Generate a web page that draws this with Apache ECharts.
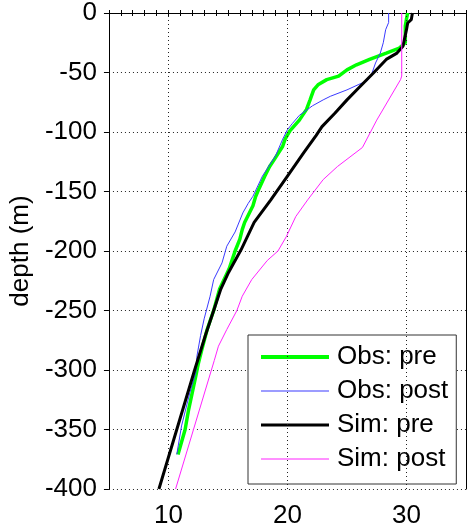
<!DOCTYPE html>
<html><head><meta charset="utf-8">
<script src="https://cdn.jsdelivr.net/npm/echarts@6/dist/echarts.min.js"></script>
<style>html,body{margin:0;padding:0;background:#fff}#c{width:469px;height:532px}</style>
</head><body><div id="c"></div>
<script>
// ---- data (temperature on x, depth on y) ----
const seriesNames = ['Obs: pre', 'Obs: post', 'Sim: pre', 'Sim: post'];
const xGridValues = [10, 20, 30];
const yTickValues = [0, -50, -100, -150, -200, -250, -300, -350, -400];

const obsPreTemp  = [30.1, 30.0, 29.9, 29.9, 29.4, 28.3, 26.9, 25.8, 25.0, 24.3, 23.3, 22.6, 22.2, 21.9, 21.6, 21.0, 20.2, 19.8, 19.6, 18.9, 18.5, 18.1, 17.5, 17.3, 17.1, 16.4, 16.2, 16.0, 15.6, 15.1, 14.3, 13.8, 13.25, 12.8, 12.5, 12.3, 11.7, 11.4, 10.8];
const obsPreDepth = [0, -5, -11, -25, -29.5, -33.7, -39, -43.5, -47.8, -53, -56, -60, -64.6, -73, -81, -90, -99, -106, -112, -123, -129, -137, -150, -155, -162, -176, -182, -190, -200, -215, -232, -250, -266, -283, -295, -305, -333, -350, -371];

const obsPostTemp  = [28.5, 28.5, 28.25, 28.05, 27.8, 27.4, 27.1, 26.7, 26.0, 25.0, 23.6, 23.0, 22.1, 21.0, 20.4, 20.0, 19.6, 19.0, 17.9, 17.1, 16.7, 16.25, 15.6, 14.9, 14.5, 13.8, 13.5, 13.0, 12.7, 12.4, 12.3, 11.8, 11.1, 10.7];
const obsPostDepth = [0, -8, -14, -25, -33.7, -42, -50.6, -57, -60, -64.6, -70, -73, -78, -86, -93, -98, -106, -120, -137, -154, -160, -168, -184, -196, -210, -224, -238, -257, -271, -288, -302, -319, -347, -371];

const simPreTemp  = [30.5, 30.4, 30.1, 30.0, 29.7, 29.2, 28.3, 27.2, 26.1, 25.0, 24.0, 22.9, 22.4, 21.4, 20.0, 18.6, 17.2, 16.1, 15.05, 14.4, 13.8, 13.1, 12.2, 10.7, 9.2];
const simPreDepth = [0, -5.6, -8.4, -14, -28, -33.7, -39, -50.6, -61.8, -73, -84, -95.5, -103, -117, -137, -157, -176, -199, -218, -232, -250, -271, -300, -350, -400];

const simPostTemp  = [29.6, 29.6, 29.5, 27.5, 26.3, 24.2, 23.0, 21.7, 20.7, 19.9, 19.2, 18.3, 17.0, 16.2, 15.75, 14.9, 14.2, 13.85, 10.6];
const simPostDepth = [0, -53, -56, -90, -113, -129, -140, -157, -171, -188, -200, -208, -224, -238, -250, -266, -280, -292, -400];

function pairs(xs, ys) { return xs.map((x, i) => [x, ys[i]]); }

const FONT = 'Liberation Sans, Arial, Helvetica, sans-serif';
const lineWidths = [3.5, 1, 3, 1];
const lineColors = ['#00ff00', '#3a3aff', '#000000', '#ff22ff'];

const chart = echarts.init(document.getElementById('c'), null, { renderer: 'canvas' });

const gridLineStyle = { color: '#222', width: 1, type: [1, 3] };

chart.setOption({
  animation: false,
  backgroundColor: '#fff',
  grid: { left: 107, right: 1, top: 13, bottom: 43, containLabel: false },
  legend: {
    orient: 'vertical',
    left: 248, top: 335,
    padding: [7, 8, 10, 13],
    itemGap: 4,
    itemWidth: 68,
    itemHeight: 14,
    symbolKeepAspect: true,
    backgroundColor: '#fff',
    borderColor: '#333',
    borderWidth: 1,
    borderRadius: 0,
    textStyle: { fontFamily: FONT, fontSize: 26, color: '#000', lineHeight: 30, padding: [0, 0, 0, 3] },
    data: seriesNames.map((n, i) => ({
      name: n,
      icon: 'path://M0,0H68V' + (lineWidths[i] >= 3 ? Math.round(lineWidths[i]) : 1) + 'H0Z',
      itemStyle: { color: lineColors[i] }
    }))
  },
  xAxis: [
    {
      type: 'value', position: 'bottom', min: 5, max: 35, interval: 1,
      axisLine: { show: true, lineStyle: { color: '#000', width: 1 } },
      axisTick: { show: true, inside: true, length: 3, lineStyle: { color: '#000' } },
      splitLine: { show: false },
      axisLabel: {
        show: true, margin: 14, fontFamily: FONT, fontSize: 26, color: '#000',
        formatter: v => (xGridValues.indexOf(v) >= 0 ? String(v) : '')
      }
    },
    {
      type: 'value', position: 'top', min: 5, max: 35, interval: 1,
      axisLine: { show: true, onZero: false, lineStyle: { color: '#000', width: 1 } },
      axisTick: { show: true, inside: true, length: 3, lineStyle: { color: '#000' } },
      splitLine: { show: false },
      axisLabel: { show: false }
    }
  ],
  yAxis: [
    {
      type: 'value', position: 'left', min: -400, max: 0, interval: 50,
      name: 'depth (m)', nameLocation: 'middle', nameGap: 50, nameRotate: 90,
      nameTextStyle: { fontFamily: FONT, fontSize: 26, color: '#000' },
      axisLine: { show: true, onZero: false, lineStyle: { color: '#000', width: 1 } },
      axisTick: { show: true, inside: false, length: 5, lineStyle: { color: '#000' } },
      splitLine: { show: true, lineStyle: gridLineStyle },
      axisLabel: { show: true, margin: 12, fontFamily: FONT, fontSize: 26, color: '#000' }
    },
    {
      type: 'value', position: 'right', min: -400, max: 0, interval: 50,
      axisLine: { show: true, onZero: false, lineStyle: { color: '#000', width: 1 } },
      axisTick: { show: false }, splitLine: { show: false }, axisLabel: { show: false }
    }
  ],
  series: [
    {
      name: seriesNames[0], type: 'line', data: pairs(obsPreTemp, obsPreDepth),
      symbol: 'none', color: lineColors[0], lineStyle: { color: lineColors[0], width: lineWidths[0] }, z: 3,
      markLine: {
        silent: true, symbol: 'none', label: { show: false }, animation: false,
        lineStyle: gridLineStyle,
        data: xGridValues.map(v => ({ xAxis: v }))
      }
    },
    { name: seriesNames[1], type: 'line', data: pairs(obsPostTemp, obsPostDepth),
      symbol: 'none', color: lineColors[1], lineStyle: { color: lineColors[1], width: lineWidths[1] }, z: 4 },
    { name: seriesNames[2], type: 'line', data: pairs(simPreTemp, simPreDepth),
      symbol: 'none', color: lineColors[2], lineStyle: { color: lineColors[2], width: lineWidths[2] }, z: 5 },
    { name: seriesNames[3], type: 'line', data: pairs(simPostTemp, simPostDepth),
      symbol: 'none', color: lineColors[3], lineStyle: { color: lineColors[3], width: lineWidths[3] }, z: 6 }
  ]
});
</script>
</body></html>
